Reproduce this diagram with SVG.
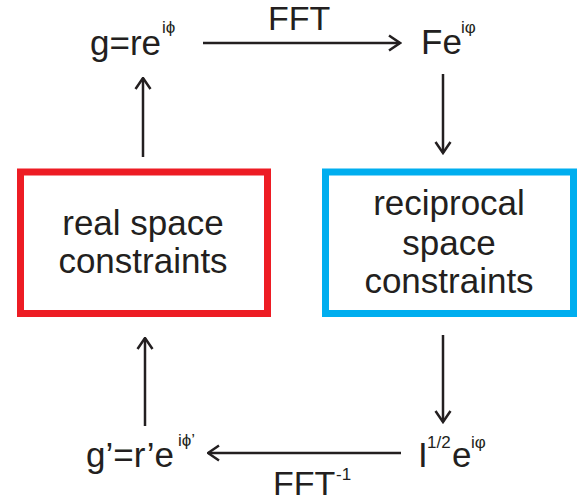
<svg xmlns="http://www.w3.org/2000/svg" width="577" height="501" viewBox="0 0 577 501">
  <defs>
    <style>
      .lbl { font-family: "Liberation Sans", Arial, sans-serif; font-size: 35px; fill: #231f20; }
      .sup { font-family: "Liberation Sans", Arial, sans-serif; font-size: 17px; fill: #231f20; }
      .fft { font-family: "Liberation Sans", Arial, sans-serif; font-size: 34px; fill: #231f20; }
      .box-text { font-family: "Liberation Sans", Arial, sans-serif; font-size: 35px; fill: #231f20; text-anchor: middle; }
      .conn { stroke: #231f20; stroke-width: 2.5; fill: none; marker-end: url(#arrow); }
    </style>
    <marker id="arrow" viewBox="0 0 14 18" refX="12.5" refY="9" markerWidth="14" markerHeight="18" markerUnits="userSpaceOnUse" orient="auto">
      <path d="M1.5,1.5 L12.5,9 L1.5,16.5" fill="none" stroke="#231f20" stroke-width="2.5" stroke-linejoin="miter"/>
    </marker>
  </defs>
  <rect width="577" height="501" fill="#ffffff"/>

  <g id="connectors">
    <line class="conn" x1="203" y1="43" x2="400" y2="43"/>
    <line class="conn" x1="443" y1="74" x2="443" y2="153"/>
    <line class="conn" x1="443" y1="335" x2="443" y2="422"/>
    <line class="conn" x1="401" y1="453" x2="208" y2="453"/>
    <line class="conn" x1="145" y1="426" x2="145" y2="338"/>
    <line class="conn" x1="143" y1="157" x2="143" y2="78"/>
    <text class="fft" x="268" y="30">FFT</text>
    <text class="fft" x="273" y="495">FFT</text>
    <text class="sup" x="336" y="480">-1</text>
  </g>

  <g id="node-g">
    <text class="lbl" x="90" y="55">g=re</text>
    <text class="sup" x="162" y="33">iϕ</text>
  </g>

  <g id="node-Fe">
    <text class="lbl" x="421" y="54">Fe</text>
    <text class="sup" x="461" y="33">iφ</text>
  </g>

  <g id="node-real-space">
    <rect x="20.5" y="172" width="247" height="141.5" fill="none" stroke="#ed1c24" stroke-width="7"/>
    <text class="box-text" x="143" y="235">real space</text>
    <text class="box-text" x="143" y="273">constraints</text>
  </g>

  <g id="node-reciprocal-space">
    <rect x="325.5" y="172" width="248" height="141.5" fill="none" stroke="#00aeef" stroke-width="7"/>
    <text class="box-text" x="449" y="215">reciprocal</text>
    <text class="box-text" x="449" y="255">space</text>
    <text class="box-text" x="449" y="293">constraints</text>
  </g>

  <g id="node-I">
    <text class="lbl" x="418" y="467">I</text>
    <text class="sup" x="427" y="448">1/2</text>
    <text class="lbl" x="452" y="467">e</text>
    <text class="sup" x="471" y="448">iφ</text>
  </g>

  <g id="node-gprime">
    <text class="lbl" x="86" y="467">g’=r’e</text>
    <text class="sup" x="178" y="446">iϕ’</text>
  </g>
</svg>
